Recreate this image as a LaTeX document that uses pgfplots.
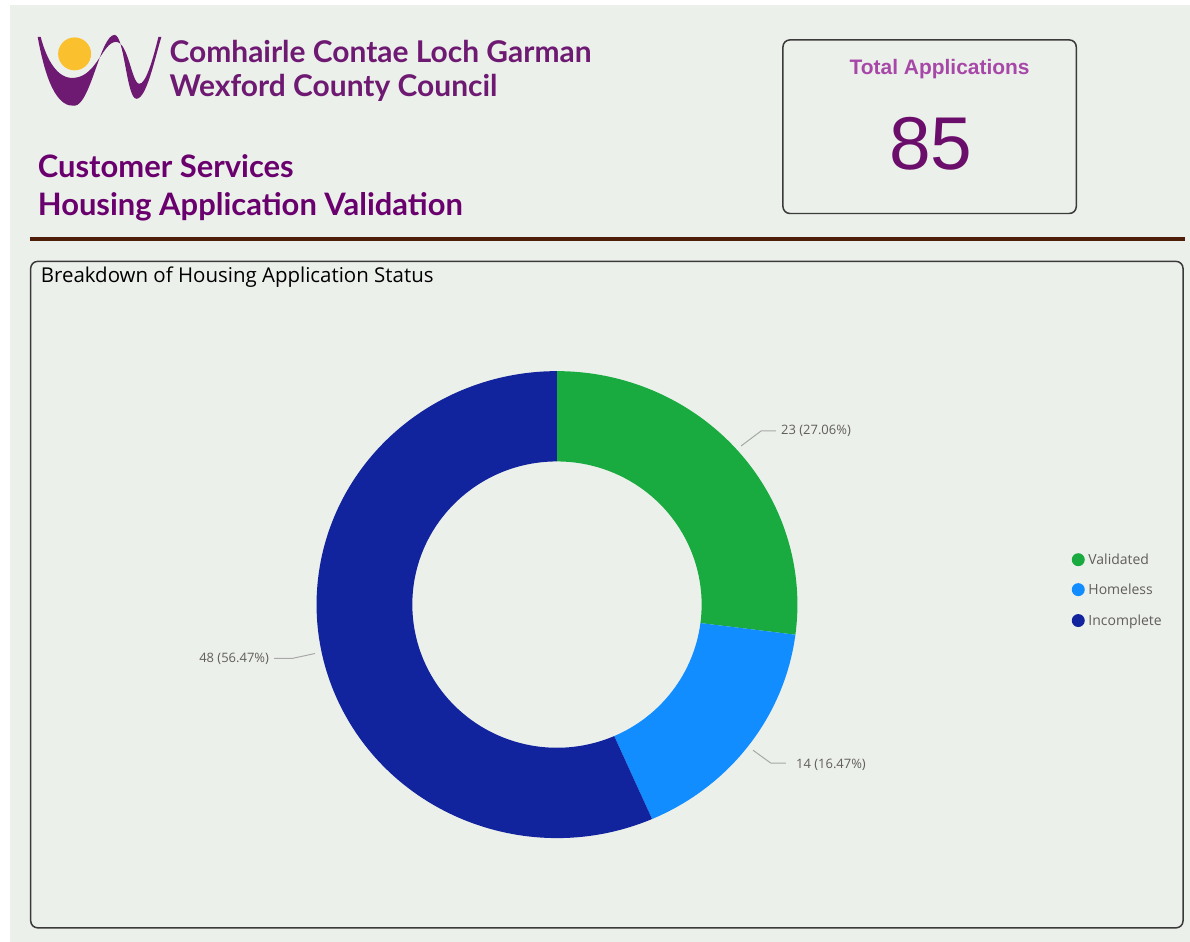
\documentclass[border=0pt]{standalone}
\usepackage{pgfplots}
\pgfplotsset{compat=1.18}
\usepackage{pgfplotstable}
\usepackage{fontspec}
\setmainfont{Liberation Sans}
\newfontfamily\lato{Lato}
\newfontfamily\osans{Open Sans}
\usetikzlibrary{calc}

\definecolor{bgc}{HTML}{ECF0EB}
\definecolor{vgreen}{HTML}{1AAB40}
\definecolor{hblue}{HTML}{118DFF}
\definecolor{inavy}{HTML}{12239E}
\definecolor{logop}{HTML}{6E1A72}
\definecolor{headp}{HTML}{6A006E}
\definecolor{totp}{HTML}{A748A8}
\definecolor{numP}{HTML}{6B0D6B}
\definecolor{sun}{HTML}{FBC02D}
\definecolor{brown}{HTML}{4F1E08}
\definecolor{boxc}{HTML}{3A3A3A}
\definecolor{leadc}{HTML}{A8A8A8}
\definecolor{labc}{HTML}{605E5C}

\pgfplotstableread{
label value
Validated 23
Homeless 14
Incomplete 48
}\statustable

\begin{document}
\pgfplotstablegetelem{0}{value}\of\statustable \edef\vA{\pgfplotsretval}%
\pgfplotstablegetelem{1}{value}\of\statustable \edef\vB{\pgfplotsretval}%
\pgfplotstablegetelem{2}{value}\of\statustable \edef\vC{\pgfplotsretval}%
\pgfmathsetmacro\tot{\vA+\vB+\vC}%
\pgfmathsetmacro\aA{90}%
\pgfmathsetmacro\aB{90-\vA/\tot*360}%
\pgfmathsetmacro\aC{\aB-\vB/\tot*360}%
\pgfmathsetmacro\aD{\aC-\vC/\tot*360}%
\newcommand\slice[3]{%
  \fill[#1] ($(555.5,606)+({241pt*cos(#2)},{234pt*sin(#2)})$)
    arc[start angle=#2, end angle=#3, x radius=241pt, y radius=234pt]
    -- ($(555.5,606)+({145pt*cos(#3)},{143.5pt*sin(#3)})$)
    arc[start angle=#3, end angle=#2, x radius=145pt, y radius=143.5pt] -- cycle;}
\begin{tikzpicture}
\begin{axis}[
  at={(0pt,0pt)}, anchor=south west,
  width=1190pt, height=944pt, scale only axis,
  xmin=0, xmax=1190, ymin=0, ymax=944, y dir=reverse,
  hide axis, clip=false,
]
\fill[white] (0,0) rectangle (1190,944);
\fill[bgc] (7,5) rectangle (1190,944);
% logo
\fill[logop] (35,37) .. controls (45,92) and (58,107) .. (72,106)
  .. controls (88,105) and (98,35) .. (112,35)
  .. controls (122,35) and (124,99) .. (134,99)
  .. controls (144,99) and (152,60) .. (159,37)
  -- (156,37) .. controls (150,62) and (143,84) .. (137,84)
  .. controls (129,84) and (126,41) .. (113,42)
  .. controls (100,43) and (94,76) .. (72,78)
  .. controls (55,80) and (44,60) .. (38,37) -- cycle;
\fill[sun] (72,54) circle[radius=16.5pt];
\node[anchor=base west, inner sep=0pt, text=logop, font=\lato\bfseries\fontsize{30}{33}\selectfont] at (167,63) {Comhairle Contae Loch Garman};
\node[anchor=base west, inner sep=0pt, text=logop, font=\lato\bfseries\fontsize{30}{33}\selectfont] at (167,97) {Wexford County Council};
\node[anchor=base west, inner sep=0pt, text=headp, font=\lato\bfseries\fontsize{31}{34}\selectfont] at (35,178) {Customer Services};
\node[anchor=base west, inner sep=0pt, text=headp, font=\lato\bfseries\fontsize{31}{34}\selectfont] at (35,216) {Housing Application Validation};
% total box
\draw[boxc, line width=1.5pt, rounded corners=7pt] (782,40) rectangle (1076,214);
\node[anchor=base, inner sep=0pt, text=totp, font=\bfseries\fontsize{21}{24}\selectfont] at (939,75) {Total Applications};
\node[anchor=base, inner sep=0pt, text=numP, font=\fontsize{75}{80}\selectfont] at (930,170) {85};
% rule
\draw[brown, line width=4pt] (27,240) -- (1185,240);
% panel
\draw[boxc, line width=1.5pt, rounded corners=7pt] (28,262) rectangle (1183,930);
\node[anchor=base west, inner sep=0pt, text=black, font=\osans\fontsize{20.5}{24}\selectfont] at (38,283) {Breakdown of Housing Application Status};
% donut
\slice{vgreen}{\aA}{\aB}
\slice{hblue}{\aB}{\aC}
\slice{inavy}{\aC}{\aD}
% leaders and labels
\draw[leadc, line width=1pt] (740,447) -- (760,432) -- (775,432);
\node[anchor=base west, inner sep=0pt, text=labc, font=\osans\fontsize{13}{15}\selectfont] at (780,436) {23 (27.06\%)};
\draw[leadc, line width=1pt] (752,752) -- (770,765) -- (785,765);
\node[anchor=base west, inner sep=0pt, text=labc, font=\osans\fontsize{13}{15}\selectfont] at (795,770) {14 (16.47\%)};
\draw[leadc, line width=1pt] (313,655) -- (290,660) -- (272,660);
\node[anchor=base east, inner sep=0pt, text=labc, font=\osans\fontsize{13}{15}\selectfont] at (267,664) {48 (56.47\%)};
% legend
\fill[vgreen] (1078,561) circle[radius=6.5pt];
\fill[hblue] (1078,591) circle[radius=6.5pt];
\fill[inavy] (1078,622) circle[radius=6.5pt];
\node[anchor=base west, inner sep=0pt, text=labc, font=\osans\fontsize{14}{16}\selectfont] at (1088,566) {Validated};
\node[anchor=base west, inner sep=0pt, text=labc, font=\osans\fontsize{14}{16}\selectfont] at (1088,596) {Homeless};
\node[anchor=base west, inner sep=0pt, text=labc, font=\osans\fontsize{14}{16}\selectfont] at (1088,627) {Incomplete};
\end{axis}
\pgfresetboundingbox
\path[use as bounding box] (0pt,0pt) rectangle (1190pt,944pt);
\end{tikzpicture}
\end{document}
